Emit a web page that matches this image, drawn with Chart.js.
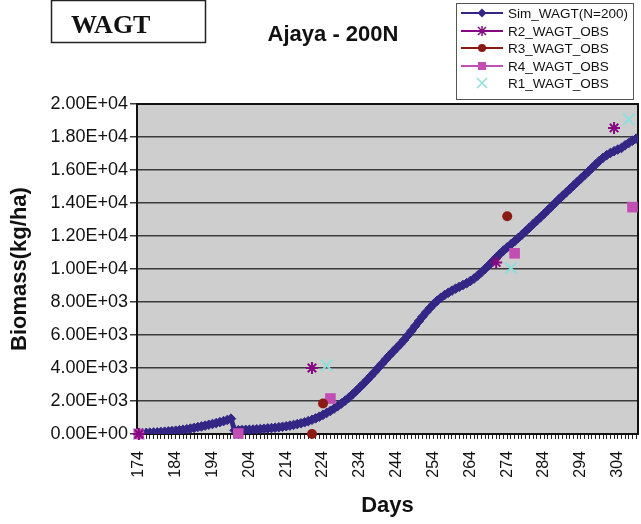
<!DOCTYPE html>
<html>
<head>
<meta charset="utf-8">
<title>Ajaya - 200N</title>
<script src="https://cdn.jsdelivr.net/npm/chart.js@4.4.1/dist/chart.umd.min.js"></script>
<style>
  html, body { margin: 0; padding: 0; background: #fff; }
  #wrap { width: 641px; height: 524px; }
</style>
</head>
<body>
<div id="wrap"><canvas id="c" width="641" height="524"></canvas></div>
<script>
// --- data ---
const firstDay = 174;
// simulated WAGT (kg/ha), one value per day from 174 to 309
const simWagt = [
  50, 60, 70, 80, 90, 100, 120, 140, 160, 180,
  200, 230, 260, 290, 330, 370, 420, 460, 510, 560,
  610, 660, 720, 780, 850, 930,
  220, 230, 240, 250, 260, 270, 285, 300, 320, 340,
  360, 380, 410, 440, 470, 510, 550, 600, 650, 710,
  780, 860, 950, 1050, 1160, 1280, 1400, 1540, 1690, 1850,
  2020, 2200, 2400, 2610, 2830, 3050, 3280, 3520, 3760, 4010,
  4260, 4510, 4760, 4990, 5220, 5450, 5700, 5970, 6250, 6540,
  6830, 7110, 7380, 7630, 7870, 8080, 8260, 8420, 8560, 8690,
  8810, 8920, 9030, 9140, 9270, 9420, 9600, 9800, 10010, 10230,
  10460, 10690, 10910, 11120, 11310, 11490, 11680, 11880, 12080, 12290,
  12500, 12710, 12920, 13130, 13340, 13560, 13780, 14000, 14220, 14430,
  14640, 14850, 15060, 15270, 15480, 15690, 15900, 16120, 16340, 16550,
  16740, 16900, 17030, 17140, 17240, 17330, 17500, 17640, 17780, 17900
];
const days = simWagt.map((v, i) => firstDay + i);

// observed replicates
const r2Days = [174, 221, 271, 303];
const r2Wagt = [0, 4000, 10400, 18550];
const r3Days = [221, 224, 274];
const r3Wagt = [0, 1850, 13200];
const r4Days = [174, 201, 226, 276, 308];
const r4Wagt = [0, 30, 2150, 10950, 13750];
const r1Days = [174, 225, 275, 307];
const r1Wagt = [0, 4150, 10050, 19070];

const yTicks = [0, 2000, 4000, 6000, 8000, 10000, 12000, 14000, 16000, 18000, 20000];
const labelEvery = 10;

const FONT = "'Liberation Sans', Arial, sans-serif";
const C_SIM = '#332685', C_R2 = '#850a82', C_R3 = '#8c1a14', C_R4 = '#c24db3', C_R1 = '#8edfdb';

function pts(xs, ys) { return xs.map((x, i) => ({ x: x, y: ys[i] })); }

function sci(v) {
  const parts = Number(v).toExponential(2).split('e');
  return parts[0] + 'E' + parts[1][0] + parts[1].slice(1).padStart(2, '0');
}

function isLabelDay(v) { return (v - firstDay) % labelEvery === 0; }

// plot background, frame, header boxes and legend
const decor = {
  id: 'decor',
  beforeDraw(chart) {
    const { ctx, chartArea: a } = chart;
    ctx.save();
    ctx.fillStyle = '#cecece';
    ctx.fillRect(a.left, a.top, a.right - a.left, a.bottom - a.top);
    ctx.restore();
  },
  beforeDatasetsDraw(chart) {
    const { ctx, chartArea: a } = chart;
    ctx.save();
    ctx.strokeStyle = '#111';
    ctx.lineWidth = 2;
    ctx.strokeRect(a.left, a.top, a.right - a.left, a.bottom - a.top);
    ctx.restore();
  },
  afterDraw(chart) {
    const ctx = chart.ctx;
    ctx.save();
    // WAGT box
    ctx.fillStyle = '#fff';
    ctx.strokeStyle = '#222';
    ctx.lineWidth = 1.5;
    ctx.fillRect(51, 0, 155, 43);
    ctx.strokeRect(51.5, 0.5, 154, 42);
    ctx.fillStyle = '#111';
    ctx.font = "bold 26px 'Liberation Serif', 'Times New Roman', serif";
    ctx.textBaseline = 'alphabetic';
    ctx.textAlign = 'left';
    ctx.fillText('WAGT', 71, 33);
    // title
    ctx.font = 'bold 22px ' + FONT;
    ctx.textAlign = 'center';
    ctx.fillText('Ajaya - 200N', 333, 41);
    // legend
    ctx.fillStyle = '#fff';
    ctx.fillRect(456, 3, 177, 96);
    ctx.strokeStyle = '#555';
    ctx.lineWidth = 1;
    ctx.strokeRect(456.5, 3.5, 177, 96);
    const items = [
      { t: 'Sim_WAGT(N=200)', c: C_SIM, s: 'diamond', line: true, y: 13 },
      { t: 'R2_WAGT_OBS', c: C_R2, s: 'star', line: true, y: 31 },
      { t: 'R3_WAGT_OBS', c: C_R3, s: 'circle', line: true, y: 48 },
      { t: 'R4_WAGT_OBS', c: C_R4, s: 'square', line: true, y: 66 },
      { t: 'R1_WAGT_OBS', c: C_R1, s: 'x', line: false, y: 83 }
    ];
    ctx.font = '13.5px ' + FONT;
    ctx.textAlign = 'left';
    ctx.textBaseline = 'middle';
    items.forEach(it => {
      const mx = 482, y = it.y;
      ctx.strokeStyle = it.c;
      ctx.fillStyle = it.c;
      if (it.line) {
        ctx.lineWidth = 2;
        ctx.beginPath(); ctx.moveTo(461, y); ctx.lineTo(503, y); ctx.stroke();
      }
      ctx.lineWidth = 1.5;
      ctx.beginPath();
      if (it.s === 'diamond') {
        ctx.moveTo(mx, y - 4.5); ctx.lineTo(mx + 4.5, y); ctx.lineTo(mx, y + 4.5); ctx.lineTo(mx - 4.5, y); ctx.closePath(); ctx.fill();
      } else if (it.s === 'circle') {
        ctx.arc(mx, y, 4, 0, Math.PI * 2); ctx.fill();
      } else if (it.s === 'square') {
        ctx.fillRect(mx - 4, y - 4, 8, 8);
      } else if (it.s === 'star') {
        ctx.moveTo(mx, y - 5); ctx.lineTo(mx, y + 5);
        ctx.moveTo(mx - 4, y - 4); ctx.lineTo(mx + 4, y + 4);
        ctx.moveTo(mx - 4, y + 4); ctx.lineTo(mx + 4, y - 4);
        ctx.moveTo(mx - 5, y); ctx.lineTo(mx + 5, y);
        ctx.stroke();
      } else {
        ctx.moveTo(mx - 5, y - 5); ctx.lineTo(mx + 5, y + 5);
        ctx.moveTo(mx - 5, y + 5); ctx.lineTo(mx + 5, y - 5);
        ctx.stroke();
      }
      ctx.fillStyle = '#111';
      ctx.fillText(it.t, 508, y + 1);
    });
    ctx.restore();
  }
};

new Chart(document.getElementById('c'), {
  type: 'line',
  data: {
    datasets: [
      {
        label: 'Sim_WAGT(N=200)',
        data: pts(days, simWagt),
        borderColor: C_SIM,
        backgroundColor: C_SIM,
        borderWidth: 5,
        pointStyle: 'rectRot',
        pointRadius: 4.8,
        pointBorderWidth: 1,
        tension: 0,
        order: 5
      },
      {
        label: 'R2_WAGT_OBS',
        data: pts(r2Days, r2Wagt),
        showLine: false,
        clip: false,
        borderColor: C_R2,
        backgroundColor: C_R2,
        pointStyle: 'star',
        pointRadius: 6,
        pointBorderWidth: 2,
        order: 1
      },
      {
        label: 'R3_WAGT_OBS',
        data: pts(r3Days, r3Wagt),
        showLine: false,
        clip: false,
        borderColor: C_R3,
        backgroundColor: C_R3,
        pointStyle: 'circle',
        pointRadius: 5,
        pointBorderWidth: 0,
        order: 2
      },
      {
        label: 'R4_WAGT_OBS',
        data: pts(r4Days, r4Wagt),
        showLine: false,
        clip: false,
        borderColor: C_R4,
        backgroundColor: C_R4,
        pointStyle: 'rect',
        pointRadius: 7.5,
        pointBorderWidth: 0,
        order: 3
      },
      {
        label: 'R1_WAGT_OBS',
        data: pts(r1Days, r1Wagt),
        showLine: false,
        clip: false,
        borderColor: C_R1,
        backgroundColor: C_R1,
        pointStyle: 'crossRot',
        pointRadius: 8,
        pointBorderWidth: 2,
        order: 4
      }
    ]
  },
  options: {
    responsive: false,
    animation: false,
    layout: { autoPadding: false, padding: { left: 7, right: 3, top: 104, bottom: 5 } },
    plugins: { legend: { display: false }, tooltip: { enabled: false } },
    scales: {
      x: {
        type: 'linear',
        min: firstDay - 0.5,
        max: days[days.length - 1] + 0.5,
        afterBuildTicks: s => { s.ticks = days.map(d => ({ value: d })); },
        afterFit: s => { s.height = 85; s.paddingLeft = 0; s.paddingRight = 0; },
        grid: { drawOnChartArea: false, tickLength: 5, color: '#222', lineWidth: 1 },
        border: { display: true, color: '#111', width: 2 },
        ticks: {
          autoSkip: false,
          minRotation: 90,
          maxRotation: 90,
          padding: 12,
          color: '#111',
          font: c => ({ family: FONT, size: (c.tick && isLabelDay(c.tick.value)) ? 16 : 1 }),
          callback: v => (isLabelDay(v) ? String(v) : '')
        },
        title: { display: true, text: 'Days', color: '#111', padding: 0, font: { family: FONT, size: 22, weight: 'bold' } }
      },
      y: {
        min: 0,
        max: 20000,
        afterBuildTicks: s => { s.ticks = yTicks.map(v => ({ value: v })); },
        afterFit: s => { s.width = 130; },
        grid: { color: '#3a3a3a', lineWidth: 1.5, tickLength: 7 },
        border: { display: true, color: '#111', width: 2 },
        ticks: {
          padding: 2,
          color: '#111',
          font: { family: FONT, size: 18 },
          callback: v => sci(v)
        },
        title: { display: true, text: 'Biomass(kg/ha)', color: '#111', padding: 0, font: { family: FONT, size: 22, weight: 'bold' } }
      }
    }
  },
  plugins: [decor]
});
</script>
</body>
</html>
